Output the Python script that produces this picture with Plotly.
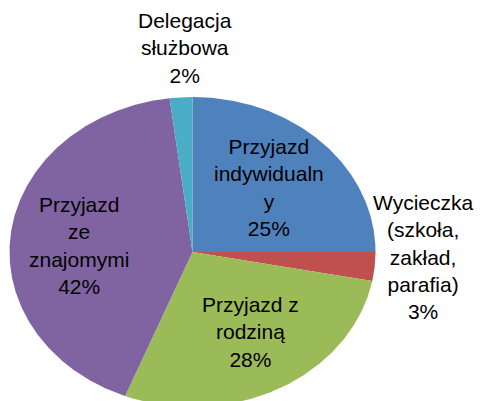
import numpy as np
import plotly.graph_objects as go

categories = ["Przyjazd indywidualny", "Wycieczka (szkoła, zakład, parafia)",
              "Przyjazd z rodziną", "Przyjazd ze znajomymi", "Delegacja służbowa"]
values = [25, 3, 28, 42, 2]
label_lines = ["Przyjazd<br>indywidualn<br>y", "Wycieczka<br>(szkoła,<br>zakład,<br>parafia)",
               "Przyjazd z<br>rodziną", "Przyjazd<br>ze<br>znajomymi", "Delegacja<br>służbowa"]
colors = ["#4F81BD", "#C0504D", "#9BBB59", "#8064A2", "#4BACC6"]

# layout (pixel-like coordinate frame)
W, H = 482, 401
cx, cy, rx, ry = 192.5, 252, 183, 155
label_pos = [(269, 187), (423, 257), (250, 332), (79, 245), (185, 48)]

fig = go.Figure()
total = sum(values)
start = 0.0
for cat, v, col in zip(categories, values, colors):
    end = start + v / total
    n = max(int((end - start) * 720), 3)
    th = np.linspace(start, end, n) * 2 * np.pi
    xs = np.concatenate([[cx], cx + rx * np.sin(th), [cx]])
    ys = np.concatenate([[cy], cy - ry * np.cos(th), [cy]])
    fig.add_trace(go.Scatter(x=xs, y=ys, fill="toself", fillcolor=col, mode="lines",
                             line=dict(width=0, color=col), name=cat, hoverinfo="name"))
    start = end

for txt, v, (lx, ly) in zip(label_lines, values, label_pos):
    fig.add_annotation(x=lx, y=ly, text=f"{txt}<br>{v}%", showarrow=False,
                       font=dict(family="Liberation Sans, Arial, sans-serif", size=21, color="#000000"),
                       align="center", xanchor="center", yanchor="middle")

fig.update_layout(
    width=W, height=H, margin=dict(l=0, r=0, t=0, b=0),
    paper_bgcolor="white", plot_bgcolor="white", showlegend=False,
    xaxis=dict(range=[0, W], visible=False, fixedrange=True),
    yaxis=dict(range=[H, 0], visible=False, fixedrange=True),
)
fig.write_html("out.html", config={"displayModeBar": False},
               post_script="document.body.style.margin='0';document.body.style.overflow='hidden';")
